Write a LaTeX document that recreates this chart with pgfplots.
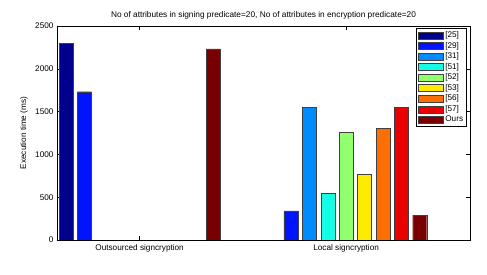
\documentclass[border=0pt]{standalone}
\usepackage{pgfplots}
\pgfplotsset{compat=1.18}
\usepackage{fontspec}
\setmainfont{Liberation Sans}
\definecolor{c1}{RGB}{0,0,140}
\definecolor{c2}{RGB}{0,20,255}
\definecolor{c3}{RGB}{0,140,255}
\definecolor{c4}{RGB}{20,255,230}
\definecolor{c5}{RGB}{145,255,110}
\definecolor{c6}{RGB}{255,235,0}
\definecolor{c7}{RGB}{255,110,0}
\definecolor{c8}{RGB}{235,0,0}
\definecolor{c9}{RGB}{120,0,0}
\begin{document}
\begin{tikzpicture}
\begin{axis}[
  scale only axis,
  width=413pt, height=214pt,
  xmin=0.6, xmax=2.6,
  ymin=0, ymax=2500,
  ybar=4.4pt, bar width=14pt,
  xtick={1,2},
  xticklabels={Outsourced signcryption, Local signcryption},
  ytick={0,500,1000,1500,2000,2500},
  tick align=inside,
  major tick length=4pt,
  axis line style={line width=0.8pt},
  every tick/.style={black, line width=0.5pt},
  tick label style={font=\fontsize{8.2}{9}\selectfont},
  xticklabel style={yshift=-1pt},
  /pgf/number format/assume math mode=true,
  /pgf/number format/1000 sep={},
  ylabel={Execution time (ms)},
  ylabel style={font=\fontsize{8.2}{9}\selectfont, at={(-0.062,0.5)}},
  title={No of attributes in signing predicate=20, No of attributes in encryption predicate=20},
  title style={font=\fontsize{8.3}{9}\selectfont, yshift=-3pt},
  legend style={at={(0.992,0.99)}, anchor=north east, font=\fontsize{8.2}{9}\selectfont,
    draw=black, line width=0.8pt, inner sep=1.2pt, row sep=-0.9pt, cells={anchor=west}},
  legend image code/.code={\draw[#1, line width=0.5pt] (0pt,-3.5pt) rectangle (25pt,3.5pt);},
]
\addplot[fill=c1, draw=black!75] coordinates {(1,2303)};
\addlegendentry{\relax[25]}
\addplot[fill=c2, draw=black!75] coordinates {(1,1732) (2,341)};
\addlegendentry{\relax[29]}
\addplot[fill=c3, draw=black!75] coordinates {(2,1557)};
\addlegendentry{\relax[31]}
\addplot[fill=c4, draw=black!75] coordinates {(2,544)};
\addlegendentry{\relax[51]}
\addplot[fill=c5, draw=black!75] coordinates {(2,1254)};
\addlegendentry{\relax[52]}
\addplot[fill=c6, draw=black!75] coordinates {(2,773)};
\addlegendentry{\relax[53]}
\addplot[fill=c7, draw=black!75] coordinates {(2,1301)};
\addlegendentry{\relax[56]}
\addplot[fill=c8, draw=black!75] coordinates {(2,1557)};
\addlegendentry{\relax[57]}
\addplot[fill=c9, draw=black!75] coordinates {(1,2233) (2,291)};
\addlegendentry{Ours}
\end{axis}
\path (current axis.south west) ++(-57pt,-35pt) (current axis.north east) ++(17pt,26pt);
\end{tikzpicture}
\end{document}
